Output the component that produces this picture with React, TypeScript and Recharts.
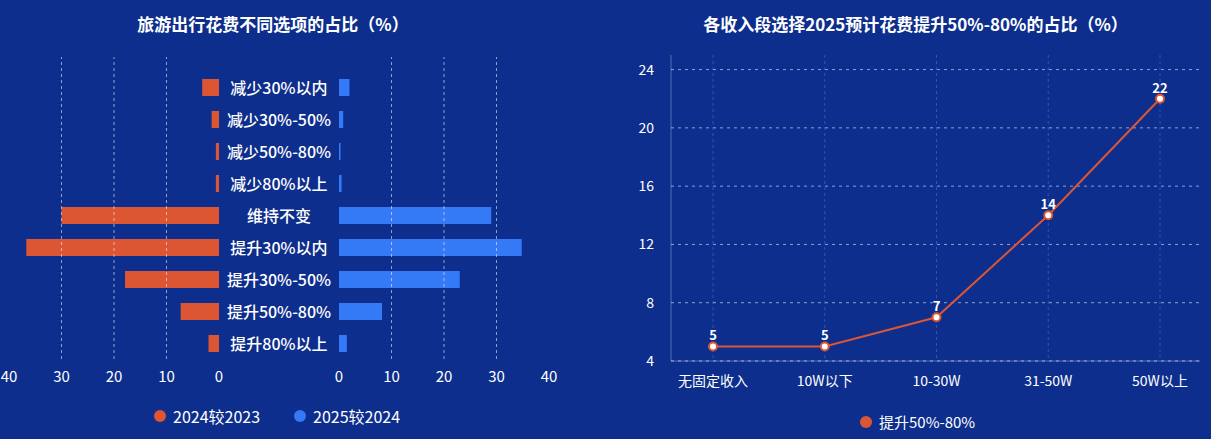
import {
  BarChart,
  Bar,
  LineChart,
  Line,
  XAxis,
  YAxis,
  CartesianGrid,
  ReferenceLine,
  LabelList,
} from "recharts";

const categories = [
  "减少30%以内",
  "减少30%-50%",
  "减少50%-80%",
  "减少80%以上",
  "维持不变",
  "提升30%以内",
  "提升30%-50%",
  "提升50%-80%",
  "提升80%以上",
];
const change2024vs2023 = [3.2, 1.4, 0.6, 0.6, 30, 36.7, 17.9, 7.3, 2];
const change2025vs2024 = [2, 0.8, 0.3, 0.5, 29, 34.8, 23, 8.2, 1.5];
const shareTicks = [0, 10, 20, 30, 40];
const gridValues = [10, 20, 30];

const incomeGroups = ["无固定收入", "10W以下", "10-30W", "31-50W", "50W以上"];
const rise50to80 = [5, 5, 7, 14, 22];
const percentTicks = [4, 8, 12, 16, 20, 24];

const BG = "#0d2e8c";
const ORANGE = "#dc5634";
const BLUE = "#3479f6";
const FONT = '"Noto Sans CJK SC", "Noto Sans", sans-serif';
const GRID = "rgba(255,255,255,0.55)";

const barData = categories.map((name, i) => ({
  name,
  a: change2024vs2023[i],
  b: change2025vs2024[i],
}));

const lineData = incomeGroups.map((name, i) => ({ name, value: rise50to80[i] }));

function MidTick({ y, payload }: any) {
  return (
    <text
      x={60}
      y={y}
      textAnchor="middle"
      dominantBaseline="central"
      fill="#fff"
      fontSize={16}
      fontWeight={500}
      fontFamily={FONT}
    >
      {payload.value}
    </text>
  );
}

function LegendDot({
  color,
  label,
  left,
  top,
  size = 15,
}: {
  color: string;
  label: string;
  left: number;
  top: number;
  size?: number;
}) {
  return (
    <div
      style={{
        position: "absolute",
        left,
        top,
        display: "flex",
        alignItems: "center",
        color: "#fff",
        fontSize: size,
        fontFamily: FONT,
        lineHeight: "20px",
      }}
    >
      <span
        style={{
          width: 12,
          height: 12,
          borderRadius: 6,
          background: color,
          marginRight: 7,
        }}
      />
      {label}
    </div>
  );
}

const titleStyle: React.CSSProperties = {
  position: "absolute",
  top: 12,
  color: "#fff",
  fontSize: 17,
  fontWeight: 700,
  fontFamily: FONT,
  textAlign: "center",
  lineHeight: "24px",
};

export default function App() {
  return (
    <div
      style={{
        position: "fixed",
        left: 0,
        top: 0,
        width: 1211,
        height: 439,
        background: BG,
        overflow: "hidden",
        fontFamily: FONT,
      }}
    >
      <div style={{ ...titleStyle, left: 0, width: 546 }}>旅游出行花费不同选项的占比（%）</div>
      <div style={{ ...titleStyle, left: 620, width: 591 }}>
        各收入段选择2025预计花费提升50%-80%的占比（%）
      </div>

      {/* left half: 2024 vs 2023, axis reversed */}
      <div style={{ position: "absolute", left: 0, top: 0 }}>
        <BarChart
          width={229}
          height={395}
          data={barData}
          layout="vertical"
          margin={{ top: 57, right: 10, bottom: 6, left: 9 }}
        >
          <XAxis
            type="number"
            domain={[0, 40]}
            ticks={shareTicks}
            reversed
            axisLine={false}
            tickLine={false}
            tickMargin={6}
            interval={0}
            tick={{ fill: "#fff", fontSize: 15, fontFamily: FONT }}
          />
          <YAxis type="category" dataKey="name" hide padding={{ top: 14, bottom: 0 }} />
          {gridValues.map((v) => (
            <ReferenceLine key={v} x={v} stroke={GRID} strokeDasharray="3 3" />
          ))}
          <Bar dataKey="a" fill={ORANGE} barSize={17} isAnimationActive={false} />
        </BarChart>
      </div>

      {/* right half: 2025 vs 2024 with category labels in the middle */}
      <div style={{ position: "absolute", left: 219, top: 0 }}>
        <BarChart
          width={340}
          height={395}
          data={barData}
          layout="vertical"
          margin={{ top: 57, right: 10, bottom: 6, left: 0 }}
        >
          <XAxis
            type="number"
            domain={[0, 40]}
            ticks={shareTicks}
            axisLine={false}
            tickLine={false}
            tickMargin={6}
            interval={0}
            tick={{ fill: "#fff", fontSize: 15, fontFamily: FONT }}
          />
          <YAxis
            type="category"
            dataKey="name"
            width={120}
            axisLine={false}
            tickLine={false}
            interval={0}
            padding={{ top: 14, bottom: 0 }}
            tick={<MidTick />}
          />
          {gridValues.map((v) => (
            <ReferenceLine key={v} x={v} stroke={GRID} strokeDasharray="3 3" />
          ))}
          <Bar dataKey="b" fill={BLUE} barSize={17} isAnimationActive={false} />
        </BarChart>
      </div>

      <LegendDot color={ORANGE} label="2024较2023" left={154} top={406} size={16} />
      <LegendDot color={BLUE} label="2025较2024" left={294} top={406} size={16} />

      {/* income line chart */}
      <div style={{ position: "absolute", left: 600, top: 0 }}>
        <LineChart
          width={611}
          height={400}
          data={lineData}
          margin={{ top: 55, right: 11, bottom: 9, left: 0 }}
        >
          <CartesianGrid vertical={false} syncWithTicks stroke={GRID} strokeDasharray="3 4" />
          <CartesianGrid
            horizontal={false}
            syncWithTicks
            stroke="rgba(255,255,255,0.18)"
            strokeDasharray="3 3"
          />
          <XAxis
            dataKey="name"
            padding={{ left: 42, right: 40 }}
            axisLine={{ stroke: "rgba(255,255,255,0.3)" }}
            tickLine={false}
            tickMargin={9}
            interval={0}
            tick={{ fill: "#fff", fontSize: 14, fontFamily: FONT }}
          />
          <YAxis
            width={71}
            domain={[4, 25]}
            ticks={percentTicks}
            axisLine={{ stroke: "rgba(255,255,255,0.3)" }}
            tickLine={false}
            tickMargin={11}
            tick={{ fill: "#fff", fontSize: 14, fontFamily: FONT }}
          />
          <Line
            type="linear"
            dataKey="value"
            stroke={ORANGE}
            strokeWidth={2}
            dot={{ r: 4, fill: "#fff", stroke: ORANGE, strokeWidth: 2 }}
            isAnimationActive={false}
          >
            <LabelList
              dataKey="value"
              position="top"
              offset={6}
              fill="#fff"
              fontSize={13}
              fontWeight={700}
              fontFamily={FONT}
            />
          </Line>
        </LineChart>
      </div>

      <LegendDot color={ORANGE} label="提升50%-80%" left={860} top={412} />
    </div>
  );
}
